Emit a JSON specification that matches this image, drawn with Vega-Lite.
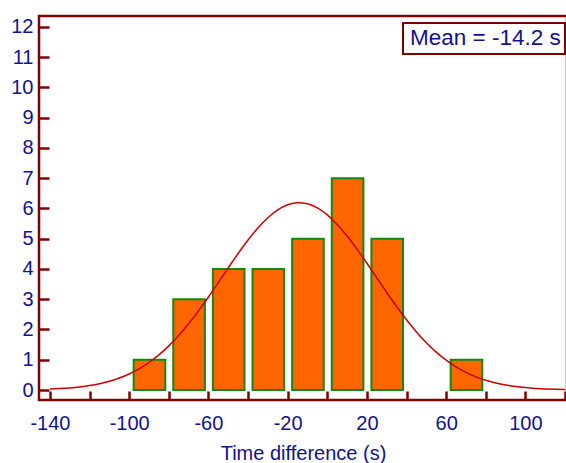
{
  "$schema": "https://vega.github.io/schema/vega-lite/v6.json",
  "width": 528,
  "height": 384,
  "autosize": "none",
  "padding": {"left": 39, "top": 16, "right": 0, "bottom": 63},
  "background": "white",
  "config": {
    "view": {"stroke": "#800000", "strokeWidth": 2.5},
    "font": "Liberation Sans",
    "axis": {
      "domain": false,
      "grid": false,
      "tickColor": "#800000",
      "tickWidth": 2.5,
      "labelColor": "#12128c",
      "labelFont": "Liberation Sans",
      "labelFontSize": 20,
      "titleFont": "Liberation Sans",
      "titleColor": "#12128c",
      "titleFontWeight": "normal",
      "titleFontSize": 20
    },
    "axisX": {
      "values": [-140, -120, -100, -80, -60, -40, -20, 0, 20, 40, 60, 80, 100, 120],
      "labelExpr": "(datum.value + 140) % 40 == 0 ? '' + datum.value : ''",
      "tickSize": -9,
      "labelPadding": 22.5,
      "labelFlush": false,
      "labelOverlap": false,
      "titlePadding": 10
    },
    "axisY": {
      "values": [0, 1, 2, 3, 4, 5, 6, 7, 8, 9, 10, 11, 12],
      "labelExpr": "'' + datum.value",
      "tickSize": -10,
      "labelPadding": 16,
      "labelFlush": false,
      "labelOverlap": false,
      "labelBaseline": "middle"
    }
  },
  "datasets": {
    "bins": [
      {"start": -100, "end": -80, "count": 1},
      {"start": -80, "end": -60, "count": 3},
      {"start": -60, "end": -40, "count": 4},
      {"start": -40, "end": -20, "count": 4},
      {"start": -20, "end": 0, "count": 5},
      {"start": 0, "end": 20, "count": 7},
      {"start": 20, "end": 40, "count": 5},
      {"start": 60, "end": 80, "count": 1}
    ],
    "curve": [
      {"t": -140, "freq": 0.032}, {"t": -135, "freq": 0.047}, {"t": -130, "freq": 0.070},
      {"t": -125, "freq": 0.103}, {"t": -120, "freq": 0.148}, {"t": -115, "freq": 0.208},
      {"t": -110, "freq": 0.289}, {"t": -105, "freq": 0.395}, {"t": -100, "freq": 0.530},
      {"t": -95, "freq": 0.700}, {"t": -90, "freq": 0.909}, {"t": -85, "freq": 1.161},
      {"t": -80, "freq": 1.459}, {"t": -75, "freq": 1.802}, {"t": -70, "freq": 2.189},
      {"t": -65, "freq": 2.615}, {"t": -60, "freq": 3.073}, {"t": -55, "freq": 3.551},
      {"t": -50, "freq": 4.035}, {"t": -45, "freq": 4.510}, {"t": -40, "freq": 4.956},
      {"t": -35, "freq": 5.357}, {"t": -30, "freq": 5.695}, {"t": -25, "freq": 5.954},
      {"t": -20, "freq": 6.121}, {"t": -15, "freq": 6.189}, {"t": -10, "freq": 6.154},
      {"t": -5, "freq": 6.017}, {"t": 0, "freq": 5.787}, {"t": 5, "freq": 5.473},
      {"t": 10, "freq": 5.091}, {"t": 15, "freq": 4.657}, {"t": 20, "freq": 4.189},
      {"t": 25, "freq": 3.706}, {"t": 30, "freq": 3.224}, {"t": 35, "freq": 2.759},
      {"t": 40, "freq": 2.321}, {"t": 45, "freq": 1.921}, {"t": 50, "freq": 1.564},
      {"t": 55, "freq": 1.252}, {"t": 60, "freq": 0.985}, {"t": 65, "freq": 0.763},
      {"t": 70, "freq": 0.581}, {"t": 75, "freq": 0.435}, {"t": 80, "freq": 0.320},
      {"t": 85, "freq": 0.232}, {"t": 90, "freq": 0.165}, {"t": 95, "freq": 0.116},
      {"t": 100, "freq": 0.080}, {"t": 105, "freq": 0.054}, {"t": 110, "freq": 0.036},
      {"t": 115, "freq": 0.024}, {"t": 120, "freq": 0.015}
    ]
  },
  "layer": [
    {
      "data": {"name": "bins"},
      "mark": {"type": "bar", "fill": "#ff6600", "stroke": "#108a10", "strokeWidth": 2, "binSpacing": 8},
      "encoding": {
        "x": {
          "field": "start",
          "type": "quantitative",
          "bin": "binned",
          "scale": {"domain": [-145.5, 121], "nice": false, "zero": false},
          "axis": {"title": "Time difference (s)"}
        },
        "x2": {"field": "end"},
        "y": {
          "field": "count",
          "type": "quantitative",
          "scale": {"domain": [-0.33, 12.36], "nice": false, "zero": false},
          "axis": {"title": null}
        }
      }
    },
    {
      "data": {"name": "curve"},
      "mark": {"type": "line", "strokeWidth": 1.5, "interpolate": "monotone"},
      "encoding": {
        "x": {"field": "t", "type": "quantitative", "axis": {"title": "Time difference (s)"}},
        "y": {"field": "freq", "type": "quantitative", "axis": {"title": null}},
        "color": {
          "datum": "Mean = -14.2 s",
          "type": "nominal",
          "scale": {"range": ["#cc0000"]},
          "legend": {
            "orient": "none",
            "legendX": 364,
            "legendY": 7,
            "title": null,
            "strokeColor": "#800000",
            "fillColor": "white",
            "padding": 4,
            "labelFontSize": 22.5,
            "labelColor": "#12128c",
            "labelFont": "Liberation Sans",
            "labelLimit": 400,
            "labelOffset": -19.5,
            "symbolType": "circle",
            "symbolSize": 0,
            "symbolOpacity": 0,
            "symbolStrokeWidth": 0,
            "encode": {"legend": {"update": {"strokeWidth": {"value": 2}}}}
          }
        }
      }
    }
  ]
}
